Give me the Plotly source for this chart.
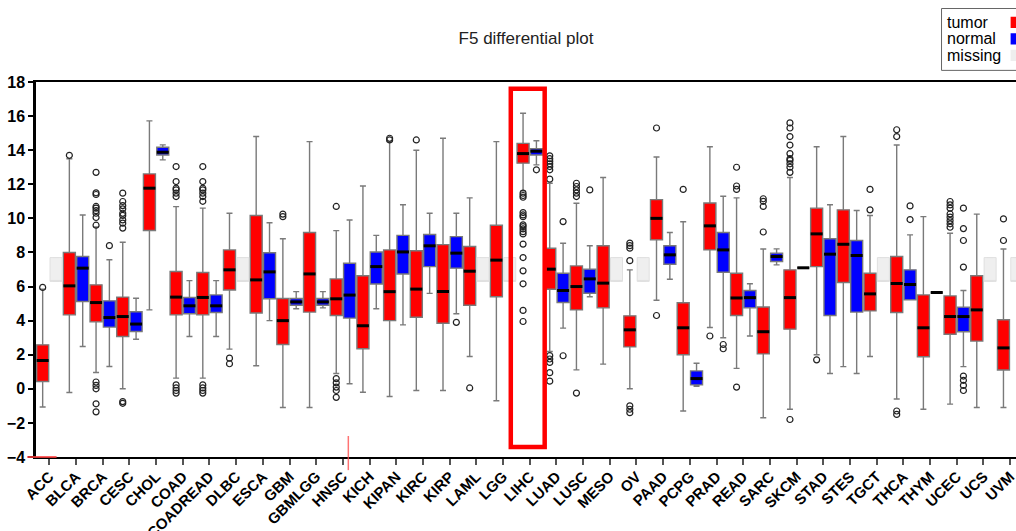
import plotly.graph_objects as go

categories = ["ACC","BLCA","BRCA","CESC","CHOL","COAD","COADREAD","DLBC","ESCA","GBM",
              "GBMLGG","HNSC","KICH","KIPAN","KIRC","KIRP","LAML","LGG","LIHC","LUAD",
              "LUSC","MESO","OV","PAAD","PCPG","PRAD","READ","SARC","SKCM","STAD",
              "STES","TGCT","THCA","THYM","UCEC","UCS","UVM"]

# tumor box stats
t_lo  = [-1.07,-0.22,0.96,0.0,4.63,0.63,0.63,2.33,1.35,-1.1,-1.1,0.9,-0.2,-0.45,-0.1,-0.1,1.9,-0.7,11.6,2.19,1.11,1.45,0.0,5.2,-1.3,3.6,1.2,-1.7,-1.2,2.0,1.3,1.9,-0.6,-1.2,-0.9,-1.1,-1.1]
t_q1  = [0.43,4.34,3.93,3.07,9.29,4.34,4.34,5.8,4.45,2.6,4.5,4.3,2.35,4.0,4.2,3.85,4.9,5.4,13.24,5.84,4.63,4.75,2.46,8.74,2.0,8.15,4.3,2.05,3.5,7.17,6.24,4.57,4.48,1.88,3.2,2.8,1.1]
t_med = [1.66,6.04,5.06,4.24,11.77,5.38,5.36,6.98,6.39,4.0,6.74,5.28,3.7,5.7,5.85,5.71,6.9,7.55,13.8,7.02,6.0,6.2,3.46,10.0,3.58,9.56,5.33,3.35,5.35,9.09,8.48,5.57,6.18,3.58,4.24,4.63,2.4]
t_q3  = [2.58,8.0,6.1,5.38,12.61,6.88,6.82,8.15,10.17,5.3,9.17,6.45,6.63,8.15,8.1,8.46,8.35,9.6,14.4,8.25,7.21,8.39,4.28,11.1,5.05,10.9,6.78,4.8,6.98,10.6,10.5,6.78,7.76,5.51,5.45,6.63,4.05]
t_hi  = [5.85,13.5,9.5,8.6,15.72,10.69,10.6,10.3,14.8,8.8,14.5,9.28,11.9,14.5,14.0,14.7,11.2,14.5,16.17,12.06,10.89,12.4,6.98,13.6,9.8,14.2,11.2,8.2,12.4,14.2,14.8,10.17,14.3,10.1,9.13,10.25,8.2]

# normal box stats (None = missing)
n_lo  = [None,2.48,1.31,2.91,13.43,3.07,3.07,None,4.0,4.7,4.75,0.3,4.7,3.75,5.6,4.4,None,None,13.14,3.56,5.4,None,None,6.43,0.15,3.0,3.1,7.27,7.1,0.9,0.9,None,5.22,5.65,1.3,None,None]
n_q1  = [None,5.12,3.62,3.36,13.72,4.4,4.48,None,5.28,4.9,4.9,4.15,6.15,6.74,7.17,7.08,None,None,13.72,5.06,5.61,None,None,7.31,0.23,6.84,4.75,7.47,7.1,4.3,4.5,None,5.22,5.65,3.35,None,None]
n_med = [None,7.08,4.18,3.8,13.88,4.87,4.87,None,6.86,5.1,5.1,5.5,7.17,8.03,8.39,7.96,None,None,13.94,5.77,6.45,None,None,7.86,0.6,8.15,5.35,7.76,7.1,7.9,7.82,None,6.12,5.65,4.24,None,None]
n_q3  = [None,7.76,5.16,4.52,14.17,5.36,5.51,None,7.98,5.3,5.3,7.37,8.03,9.0,9.05,8.93,None,None,14.08,6.78,7.02,None,None,8.39,1.05,9.17,5.77,7.96,7.1,8.8,8.7,None,6.98,5.65,4.79,None,None]
n_hi  = [None,10.2,7.57,5.31,14.31,6.35,6.35,None,9.74,5.7,5.7,9.9,9.0,10.8,10.3,10.3,None,None,14.55,8.54,8.39,None,None,9.17,1.5,11.3,6.16,8.21,7.1,10.8,10.46,None,9.03,5.65,5.77,None,None]

# outliers per category
t_out = [[5.95],[13.7],
         [9.6,10.05,10.3,10.45,10.6,10.7,11.4,11.5,12.7,0.4,0.2,0.0,-0.88,-1.35],
         [9.43,9.72,9.91,10.17,10.3,10.56,10.75,10.99,11.48,-0.75,-0.85],
         [],
         [11.28,11.48,11.67,11.77,12.16,13.04,0.23,0.05,-0.1,-0.25],
         [11.0,11.28,11.48,11.67,11.77,12.16,13.04,0.23,0.05,-0.1,-0.25],
         [1.8,1.47],[],[10.1,10.25],[],
         [10.7,0.6,0.35,0.1,-0.1,-0.5],
         [],[14.6,14.7],[14.6],[],[0.05],[],
         [11.48,11.34,11.24,10.34,10.2,10.1,9.62,9.52,9.38,9.22,9.09,8.49,7.7,6.92,6.16,4.6,3.95],
         [13.67,13.5,13.35,13.2,13.04,12.85,12.3,1.95,1.75,1.55,0.95,0.45],
         [12.06,11.87,11.67,11.48,11.28,-0.25],
         [],[8.55,8.4,8.25,7.52,-1.0,-1.2,-1.4],[15.3,4.3],[11.7],[3.1],
         [11.7,11.9,13.0,0.1],[9.2,10.7,11.0,11.15],
         [12.7,13.0,13.2,13.4,13.5,13.8,14.3,14.8,15.3,15.6,-1.8],
         [1.7],[],[10.5,11.7],[14.8,15.2,-1.3,-1.5],[],
         [9.48,9.68,9.87,10.07,10.26,10.6,10.79,10.99],[],[8.7,9.97]]
n_out = [[],[],[8.4],[],[],[],[],[],[],[],[],[],[],[],[],[3.9],[],[],[12.85],[9.81,1.94],[11.67],
         [],[],[],[],[2.6,2.35],[],[],[],[],[],[],[9.93,10.73],[],[7.14,8.7,9.4,10.6,0.75,0.5,0.2,-0.1],[],[]]

# "missing" placeholder box range
missing_lo, missing_hi = 6.3, 7.7
highlight = "LIHC"

OFF = 0.25
W = 0.45
BOXLINE = "#7a7a7a"
FONT = "Liberation Sans, Arial"

fig = go.Figure()

def add_group(xs, lo, q1, med, q3, hi, fill, name):
    fig.add_trace(go.Box(x=xs, lowerfence=lo, q1=q1, median=med, q3=q3, upperfence=hi,
                         width=W, whiskerwidth=0.5, fillcolor=fill,
                         line=dict(color=BOXLINE, width=1.4), boxpoints=False,
                         name=name, showlegend=False, hoverinfo="skip"))
    mx, my = [], []
    for x, m in zip(xs, med):
        mx += [x - W / 2, x + W / 2, None]
        my += [m, m, None]
    fig.add_trace(go.Scatter(x=mx, y=my, mode="lines", line=dict(color="black", width=3),
                             showlegend=False, hoverinfo="skip"))

# tumor
tx = [i - OFF for i in range(len(categories))]
add_group(tx, t_lo, t_q1, t_med, t_q3, t_hi, "#ff0000", "tumor")

# normal (present)
nidx = [i for i in range(len(categories)) if n_med[i] is not None]
add_group([i + OFF for i in nidx], [n_lo[i] for i in nidx], [n_q1[i] for i in nidx],
          [n_med[i] for i in nidx], [n_q3[i] for i in nidx], [n_hi[i] for i in nidx],
          "#0000ff", "normal")

# missing
midx = [i for i in range(len(categories)) if n_med[i] is None]
mxs = [i + OFF for i in midx]
fig.add_trace(go.Box(x=mxs, lowerfence=[missing_lo] * len(midx), q1=[missing_lo] * len(midx),
                     median=[missing_lo] * len(midx), q3=[missing_hi] * len(midx),
                     upperfence=[missing_hi] * len(midx), width=W, fillcolor="#efefef",
                     line=dict(color="#e0e0e0", width=1), boxpoints=False,
                     showlegend=False, hoverinfo="skip"))

# outliers
ox, oy = [], []
for i, vals in enumerate(t_out):
    for v in vals:
        ox.append(i - OFF); oy.append(v)
for i, vals in enumerate(n_out):
    for v in vals:
        ox.append(i + OFF); oy.append(v)
fig.add_trace(go.Scatter(x=ox, y=oy, mode="markers",
                         marker=dict(symbol="circle-open", size=6, color="#222222",
                                     line=dict(width=1.2)),
                         showlegend=False, hoverinfo="skip"))

hi_i = categories.index(highlight)
fig.add_shape(type="rect", xref="x", yref="y", x0=hi_i - 0.71, x1=hi_i + 0.56,
              y0=-3.42, y1=17.61, line=dict(color="#ff0000", width=4.5))

# small red marks near axis
fig.add_shape(type="line", xref="paper", yref="paper", x0=-0.009, x1=0.021, y0=0, y1=0,
              line=dict(color="rgba(255,60,60,0.8)", width=2))
fig.add_shape(type="line", xref="paper", yref="paper", x0=0.3187, x1=0.3187, y0=0.056, y1=-0.035,
              line=dict(color="rgba(255,80,80,0.8)", width=1.5))

# custom legend
fig.add_shape(type="rect", xref="paper", yref="paper", x0=0.924, x1=1.02, y0=1.031, y1=1.196,
              line=dict(color="#666666", width=1), fillcolor="white")
legend_items = [("tumor", "#ff0000"), ("normal", "#0000ff"), ("missing", "#eeeeee")]
for k, (lab, col) in enumerate(legend_items):
    yc = 1.159 - k * 0.044
    fig.add_annotation(xref="paper", yref="paper", x=0.9275, y=yc, text=lab, showarrow=False,
                       xanchor="left", yanchor="middle",
                       font=dict(family=FONT, size=16, color="black"))
    fig.add_shape(type="rect", xref="paper", yref="paper", x0=0.9945, x1=1.01,
                  y0=yc - 0.015, y1=yc + 0.015, line=dict(width=0), fillcolor=col)

fig.update_layout(
    width=1016, height=531,
    margin=dict(l=36, r=0, t=82, b=74, autoexpand=False),
    paper_bgcolor="white", plot_bgcolor="white",
    template="none",
    boxmode="overlay",
    title=dict(text="F5 differential plot", x=0.5, xref="paper", y=1 - 38 / 531,
               yref="container", xanchor="center", yanchor="middle",
               font=dict(family=FONT, size=17, color="#222222")),
    xaxis=dict(type="linear", range=[-0.5, 36.22], tickmode="array",
               tickvals=list(range(len(categories))), ticktext=categories, tickangle=-45,
               ticks="outside", ticklen=6, tickwidth=1.5, tickcolor="#555555",
               ticklabeloverflow="allow", ticklabelstandoff=-3,
               showline=True, linecolor="black", linewidth=2, mirror=True,
               showgrid=False, zeroline=False, automargin=False,
               tickfont=dict(family=FONT, size=15, color="black", weight="bold")),
    yaxis=dict(range=[-4, 18], tickmode="array", tickvals=list(range(-4, 19, 2)),
               ticks="outside", ticklen=5, tickwidth=1.5, tickcolor="black",
               showline=True, linecolor="black", linewidth=2.5,
               showgrid=False, zeroline=False, automargin=False,
               tickfont=dict(family=FONT, size=16, color="black", weight="bold")),
)

fig.write_html("out.html")
